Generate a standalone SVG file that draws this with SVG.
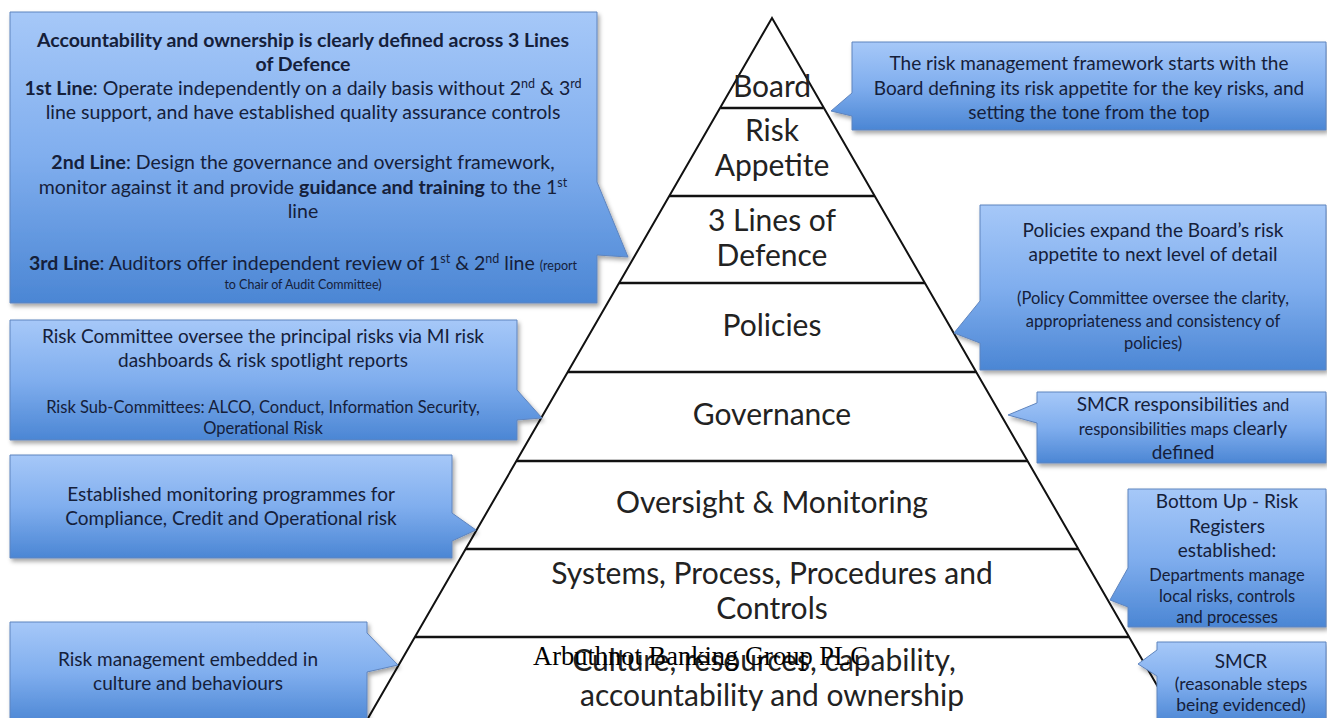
<svg xmlns="http://www.w3.org/2000/svg" width="1327" height="718" viewBox="0 0 1327 718">
<defs>
<linearGradient id="g" x1="0" y1="0" x2="0" y2="1">
<stop offset="0" stop-color="#A6C8F8"/>
<stop offset="0.5" stop-color="#80AEEE"/>
<stop offset="1" stop-color="#4B86D4"/>
</linearGradient>
<filter id="sh" x="-5%" y="-5%" width="112%" height="120%">
<feDropShadow dx="2" dy="3" stdDeviation="2" flood-color="#000" flood-opacity="0.35"/>
</filter>
<style>
.box{fill:url(#g);stroke:#5E84BE;stroke-width:1;filter:url(#sh)}
.t{font-family:Lato,"Liberation Sans",sans-serif;fill:#15203A;text-anchor:middle;font-size:19px}
.l{font-size:19.5px}
.s{font-size:16.5px}
.s2{font-size:17.5px}
.xs{font-size:12.5px}
.b{font-weight:bold}
.py{font-family:Lato,"Liberation Sans",sans-serif;fill:#222;text-anchor:middle;font-size:30px}
.edge{fill:#fff;stroke:#111;stroke-width:2}
.sep{stroke:#111;stroke-width:2.5}
.wm{font-family:"Liberation Serif",serif;font-size:26.5px;fill:#000}
</style>
</defs>
<rect width="1327" height="718" fill="#fff"/>

<g id="pyramid">
<polygon class="edge" points="772,18 1177,720 367,720"/>
<g id="separators">
<line class="sep" x1="720.6" y1="108" x2="823.4" y2="108"/>
<line class="sep" x1="669.3" y1="196" x2="874.7" y2="196"/>
<line class="sep" x1="619.1" y1="283" x2="924.9" y2="283"/>
<line class="sep" x1="567.8" y1="372" x2="976.2" y2="372"/>
<line class="sep" x1="516.5" y1="461" x2="1027.5" y2="461"/>
<line class="sep" x1="465.7" y1="549" x2="1078.3" y2="549"/>
<line class="sep" x1="414.9" y1="637" x2="1129.1" y2="637"/>
</g>
<text class="py" x="772" y="97">Board</text>
<text class="py" x="772" y="141">Risk</text>
<text class="py" x="772" y="176">Appetite</text>
<text class="py" x="772" y="231">3 Lines of</text>
<text class="py" x="772" y="266">Defence</text>
<text class="py" x="772" y="336">Policies</text>
<text class="py" x="772" y="425">Governance</text>
<text class="py" x="772" y="513">Oversight &amp; Monitoring</text>
<text class="py" x="772" y="584">Systems, Process, Procedures and</text>
<text class="py" x="772" y="619">Controls</text>
<text class="py" x="764" y="671">Culture, resources, capability,</text>
<text class="py" x="772" y="706">accountability and ownership</text>
</g>

<g id="connectors"></g>

<g id="callout-lines">
<path class="box" d="M10,12 H597 V182 L628,257 L597,255 V303 H10 Z"/>
<text class="t l b" x="303" y="47">Accountability and ownership is clearly defined across 3 Lines</text>
<text class="t l b" x="303" y="71">of Defence</text>
<text class="t l" x="303" y="95"><tspan class="b">1st Line</tspan>: Operate independently on a daily basis without 2<tspan class="xs" dy="-7">nd</tspan><tspan dy="7"> &amp; 3</tspan><tspan class="xs" dy="-7">rd</tspan></text>
<text class="t l" x="303" y="119">line support, and have established quality assurance controls</text>
<text class="t l" x="303" y="169"><tspan class="b">2nd Line</tspan>: Design the governance and oversight framework,</text>
<text class="t l" x="303" y="194">monitor against it and provide <tspan class="b">guidance and training</tspan> to the 1<tspan class="xs" dy="-7">st</tspan></text>
<text class="t l" x="303" y="218">line</text>
<text class="t l" x="303" y="270"><tspan class="b">3rd Line</tspan>: Auditors offer independent  review of 1<tspan class="xs" dy="-7">st</tspan><tspan dy="7"> &amp; 2</tspan><tspan class="xs" dy="-7">nd</tspan><tspan dy="7"> line </tspan><tspan class="xs">(report</tspan></text>
<text class="t xs" x="303" y="289">to Chair of Audit Committee)</text>
</g>

<g id="callout-board">
<path class="box" d="M852,42 H1326 V130 H852 V116 L831,111 L852,93 Z"/>
<text class="t" x="1089" y="70">The risk management framework starts with the</text>
<text class="t" x="1089" y="95">Board defining its risk appetite  for the key risks, and</text>
<text class="t" x="1089" y="119">setting the tone from the top</text>
</g>

<g id="callout-policies">
<path class="box" d="M980,205 H1326 V370 H980 V343 L954,333 L980,301 Z"/>
<text class="t" x="1153" y="237">Policies expand the Board’s risk</text>
<text class="t" x="1153" y="261">appetite to next level of detail</text>
<text class="t s" x="1153" y="304">(Policy Committee  oversee the clarity,</text>
<text class="t s" x="1153" y="327">appropriateness  and consistency of</text>
<text class="t s" x="1153" y="349">policies)</text>
</g>

<g id="callout-risk-committee">
<path class="box" d="M10,320 H517 V390 L542,418 L517,420 V440 H10 Z"/>
<text class="t" x="263" y="343">Risk Committee oversee the principal risks via MI risk</text>
<text class="t" x="263" y="367">dashboards &amp; risk spotlight reports</text>
<text class="t s" x="263" y="413">Risk Sub-Committees:  ALCO, Conduct,  Information  Security,</text>
<text class="t s" x="263" y="434">Operational  Risk</text>
</g>

<g id="callout-smcr-maps">
<path class="box" d="M1037,392 H1326 V463 H1037 V423 L1008,415 L1037,403 Z"/>
<text class="t" x="1183" y="411">SMCR responsibilities <tspan class="s">and</tspan></text>
<text class="t" x="1183" y="435"><tspan class="s">responsibilities maps </tspan>clearly</text>
<text class="t" x="1183" y="459">defined</text>
</g>

<g id="callout-monitoring">
<path class="box" d="M10,455 H452 V513 L476,530 L452,541 V558 H10 Z"/>
<text class="t" x="231" y="501">Established monitoring programmes for</text>
<text class="t" x="231" y="525">Compliance, Credit and Operational risk</text>
</g>

<g id="callout-registers">
<path class="box" d="M1128,489 H1326 V627 H1128 V607 L1110,600 L1128,568 Z"/>
<text class="t" x="1227" y="508">Bottom Up - Risk</text>
<text class="t" x="1227" y="533">Registers</text>
<text class="t" x="1227" y="557">established:</text>
<text class="t s" x="1227" y="581">Departments  manage</text>
<text class="t s" x="1227" y="602">local risks, controls</text>
<text class="t s" x="1227" y="623">and processes</text>
</g>

<g id="callout-culture">
<path class="box" d="M10,622 H367 V633 L398,665 L367,672 V724 H10 Z"/>
<text class="t" x="188" y="666">Risk management embedded in</text>
<text class="t" x="188" y="690">culture and behaviours</text>
</g>

<g id="callout-smcr">
<path class="box" d="M1157,642 H1326 V724 H1157 V676 L1138,664 L1157,650 Z"/>
<text class="t" x="1241" y="668">SMCR</text>
<text class="t s2" x="1241" y="690">(reasonable steps</text>
<text class="t s2" x="1241" y="711">being evidenced)</text>
</g>

<text class="wm" x="533" y="665">Arbuthnot Banking Group PLC</text>
</svg>
